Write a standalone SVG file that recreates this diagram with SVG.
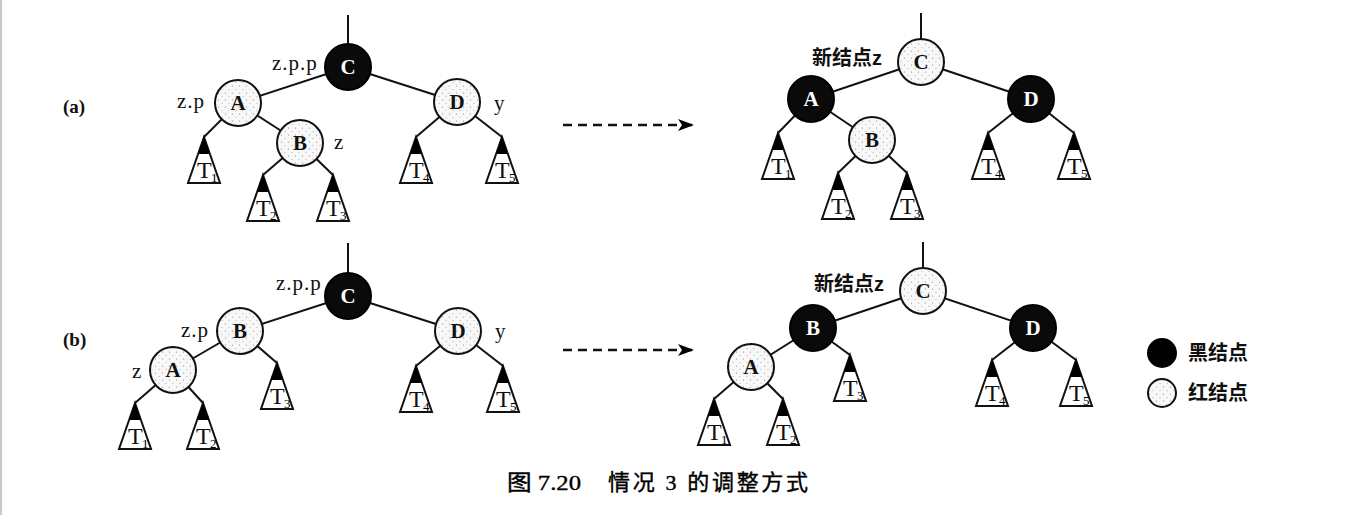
<svg xmlns="http://www.w3.org/2000/svg" width="1355" height="515" viewBox="0 0 1355 515">
<style>
.edge{stroke:#111;stroke-width:2;fill:none}
.blk{fill:#0a0a0a;stroke:#000;stroke-width:2}
.red{fill:url(#stip);stroke:#111;stroke-width:2}
.lw{font-family:"Liberation Serif",serif;font-weight:bold;font-size:21px;fill:#fff;text-anchor:middle}
.lb{font-family:"Liberation Serif",serif;font-weight:bold;font-size:21px;fill:#111;text-anchor:middle}
.tag{font-family:"Liberation Serif",serif;font-size:21px;fill:#111;letter-spacing:1px}
.cn{font-family:"Liberation Sans","Noto Sans CJK SC",sans-serif;font-weight:bold;font-size:20px;fill:#111}
.tt{font-family:"Liberation Serif",serif;font-size:24px;fill:#111}
.ts{font-family:"Liberation Serif",serif;font-size:13px;fill:#000}
.tri{fill:#fff;stroke:#111;stroke-width:2;stroke-linejoin:miter}
.dash{stroke:#111;stroke-width:2.5;stroke-dasharray:9 6;fill:none}
.cap{font-family:"Liberation Serif","Noto Sans CJK SC",serif;font-size:22px;fill:#000;stroke:#000;stroke-width:0.4}
.lab{font-family:"Liberation Serif",serif;font-weight:bold;font-size:19px;fill:#111}
</style>
<defs>
<pattern id="stip" width="7" height="7" patternUnits="userSpaceOnUse">
<rect width="7" height="7" fill="#f8f8f8"/>
<circle cx="1.5" cy="2" r="0.6" fill="#888"/>
<circle cx="5" cy="5.5" r="0.5" fill="#999"/>
</pattern>
<g id="sub">
<polygon class="tri" points="0,0 -16,46 16,46"/>
<polygon points="0,0 -6.2,17 6.2,17" fill="#000"/>
</g>
<marker id="ah" markerWidth="16" markerHeight="12" refX="14" refY="6" orient="auto" markerUnits="userSpaceOnUse">
<polygon points="0,0 16,6 0,12 4,6" fill="#000"/>
</marker>
</defs>
<rect width="1355" height="515" fill="#fff"/>
<rect x="0" y="0" width="2" height="515" fill="#c8c8c8"/>

<g id="connectors">
<line class="edge" x1="348" y1="15" x2="348" y2="67"/>
<line class="edge" x1="348" y1="67" x2="238" y2="103"/>
<line class="edge" x1="348" y1="67" x2="457" y2="102"/>
<line class="edge" x1="238" y1="103" x2="300" y2="143"/>
<line class="edge" x1="238" y1="103" x2="204" y2="137"/>
<line class="edge" x1="300" y1="143" x2="263" y2="175"/>
<line class="edge" x1="300" y1="143" x2="333" y2="175"/>
<line class="edge" x1="457" y1="102" x2="416" y2="137"/>
<line class="edge" x1="457" y1="102" x2="502" y2="137"/>
<line class="edge" x1="921" y1="13" x2="921" y2="62"/>
<line class="edge" x1="921" y1="62" x2="811" y2="99"/>
<line class="edge" x1="921" y1="62" x2="1031" y2="99"/>
<line class="edge" x1="811" y1="99" x2="872" y2="140"/>
<line class="edge" x1="811" y1="99" x2="778" y2="133"/>
<line class="edge" x1="872" y1="140" x2="838" y2="173"/>
<line class="edge" x1="872" y1="140" x2="907" y2="173"/>
<line class="edge" x1="1031" y1="99" x2="988" y2="133"/>
<line class="edge" x1="1031" y1="99" x2="1074" y2="133"/>
<line class="edge" x1="348" y1="243" x2="348" y2="296"/>
<line class="edge" x1="348" y1="296" x2="240" y2="331"/>
<line class="edge" x1="348" y1="296" x2="458" y2="331"/>
<line class="edge" x1="240" y1="331" x2="173" y2="370"/>
<line class="edge" x1="240" y1="331" x2="277" y2="363"/>
<line class="edge" x1="173" y1="370" x2="135" y2="403"/>
<line class="edge" x1="173" y1="370" x2="203" y2="403"/>
<line class="edge" x1="458" y1="331" x2="416" y2="366"/>
<line class="edge" x1="458" y1="331" x2="503" y2="366"/>
<line class="edge" x1="923" y1="242" x2="923" y2="291"/>
<line class="edge" x1="923" y1="291" x2="813" y2="328"/>
<line class="edge" x1="923" y1="291" x2="1033" y2="328"/>
<line class="edge" x1="813" y1="328" x2="751" y2="367"/>
<line class="edge" x1="813" y1="328" x2="850" y2="355"/>
<line class="edge" x1="751" y1="367" x2="714" y2="399"/>
<line class="edge" x1="751" y1="367" x2="783" y2="399"/>
<line class="edge" x1="1033" y1="328" x2="992" y2="360"/>
<line class="edge" x1="1033" y1="328" x2="1076" y2="360"/>
<line class="dash" x1="563" y1="125" x2="692" y2="125" marker-end="url(#ah)"/>
<line class="dash" x1="563" y1="350" x2="692" y2="350" marker-end="url(#ah)"/>
</g>

<text class="lab" x="63" y="113">(a)</text>
<text class="lab" x="63" y="346">(b)</text>

<g id="a-l-C"><circle class="blk" cx="348" cy="67" r="23"/><text class="lw" x="348" y="74">C</text></g>
<g id="a-l-A"><circle class="red" cx="238" cy="103" r="23"/><text class="lb" x="238" y="110">A</text></g>
<g id="a-l-B"><circle class="red" cx="300" cy="143" r="23"/><text class="lb" x="300" y="150">B</text></g>
<g id="a-l-D"><circle class="red" cx="457" cy="102" r="23"/><text class="lb" x="457" y="109">D</text></g>
<g id="a-l-T1"><use href="#sub" x="204" y="137"/><text class="tt" x="197" y="178">T</text><text class="ts" x="211" y="182">1</text></g>
<g id="a-l-T2"><use href="#sub" x="263" y="175"/><text class="tt" x="256" y="216">T</text><text class="ts" x="270" y="220">2</text></g>
<g id="a-l-T3"><use href="#sub" x="333" y="175"/><text class="tt" x="326" y="216">T</text><text class="ts" x="340" y="220">3</text></g>
<g id="a-l-T4"><use href="#sub" x="416" y="137"/><text class="tt" x="409" y="178">T</text><text class="ts" x="423" y="182">4</text></g>
<g id="a-l-T5"><use href="#sub" x="502" y="137"/><text class="tt" x="495" y="178">T</text><text class="ts" x="509" y="182">5</text></g>
<text class="tag" x="272" y="70">z.p.p</text>
<text class="tag" x="177" y="108">z.p</text>
<text class="tag" x="334" y="149">z</text>
<text class="tag" x="494" y="110">y</text>

<g id="a-r-C"><circle class="red" cx="921" cy="62" r="23"/><text class="lb" x="921" y="69">C</text></g>
<g id="a-r-A"><circle class="blk" cx="811" cy="99" r="23"/><text class="lw" x="811" y="106">A</text></g>
<g id="a-r-B"><circle class="red" cx="872" cy="140" r="23"/><text class="lb" x="872" y="147">B</text></g>
<g id="a-r-D"><circle class="blk" cx="1031" cy="99" r="23"/><text class="lw" x="1031" y="106">D</text></g>
<g id="a-r-T1"><use href="#sub" x="778" y="133"/><text class="tt" x="771" y="174">T</text><text class="ts" x="785" y="178">1</text></g>
<g id="a-r-T2"><use href="#sub" x="838" y="173"/><text class="tt" x="831" y="214">T</text><text class="ts" x="845" y="218">2</text></g>
<g id="a-r-T3"><use href="#sub" x="907" y="173"/><text class="tt" x="900" y="214">T</text><text class="ts" x="914" y="218">3</text></g>
<g id="a-r-T4"><use href="#sub" x="988" y="133"/><text class="tt" x="981" y="174">T</text><text class="ts" x="995" y="178">4</text></g>
<g id="a-r-T5"><use href="#sub" x="1074" y="133"/><text class="tt" x="1067" y="174">T</text><text class="ts" x="1081" y="178">5</text></g>
<text class="cn" x="812" y="65" font-size="21">新结点z</text>

<g id="b-l-C"><circle class="blk" cx="348" cy="296" r="23"/><text class="lw" x="348" y="303">C</text></g>
<g id="b-l-B"><circle class="red" cx="240" cy="331" r="23"/><text class="lb" x="240" y="338">B</text></g>
<g id="b-l-A"><circle class="red" cx="173" cy="370" r="23"/><text class="lb" x="173" y="377">A</text></g>
<g id="b-l-D"><circle class="red" cx="458" cy="331" r="23"/><text class="lb" x="458" y="338">D</text></g>
<g id="b-l-T1"><use href="#sub" x="135" y="403"/><text class="tt" x="128" y="444">T</text><text class="ts" x="142" y="448">1</text></g>
<g id="b-l-T2"><use href="#sub" x="203" y="403"/><text class="tt" x="196" y="444">T</text><text class="ts" x="210" y="448">2</text></g>
<g id="b-l-T3"><use href="#sub" x="277" y="363"/><text class="tt" x="270" y="404">T</text><text class="ts" x="284" y="408">3</text></g>
<g id="b-l-T4"><use href="#sub" x="416" y="366"/><text class="tt" x="409" y="407">T</text><text class="ts" x="423" y="411">4</text></g>
<g id="b-l-T5"><use href="#sub" x="503" y="366"/><text class="tt" x="496" y="407">T</text><text class="ts" x="510" y="411">5</text></g>
<text class="tag" x="276" y="290">z.p.p</text>
<text class="tag" x="181" y="337">z.p</text>
<text class="tag" x="132" y="378">z</text>
<text class="tag" x="495" y="338">y</text>

<g id="b-r-C"><circle class="red" cx="923" cy="291" r="23"/><text class="lb" x="923" y="298">C</text></g>
<g id="b-r-B"><circle class="blk" cx="813" cy="328" r="23"/><text class="lw" x="813" y="335">B</text></g>
<g id="b-r-A"><circle class="red" cx="751" cy="367" r="23"/><text class="lb" x="751" y="374">A</text></g>
<g id="b-r-D"><circle class="blk" cx="1033" cy="328" r="23"/><text class="lw" x="1033" y="335">D</text></g>
<g id="b-r-T1"><use href="#sub" x="714" y="399"/><text class="tt" x="707" y="440">T</text><text class="ts" x="721" y="444">1</text></g>
<g id="b-r-T2"><use href="#sub" x="783" y="399"/><text class="tt" x="776" y="440">T</text><text class="ts" x="790" y="444">2</text></g>
<g id="b-r-T3"><use href="#sub" x="850" y="355"/><text class="tt" x="843" y="396">T</text><text class="ts" x="857" y="400">3</text></g>
<g id="b-r-T4"><use href="#sub" x="992" y="360"/><text class="tt" x="985" y="401">T</text><text class="ts" x="999" y="405">4</text></g>
<g id="b-r-T5"><use href="#sub" x="1076" y="360"/><text class="tt" x="1069" y="401">T</text><text class="ts" x="1083" y="405">5</text></g>
<text class="cn" x="814" y="291" font-size="21">新结点z</text>

<g id="legend-black"><circle cx="1162" cy="353" r="15" fill="#000"/><text class="cn" x="1188" y="360">黑结点</text></g>
<g id="legend-red"><circle class="red" cx="1162" cy="393" r="14"/><text class="cn" x="1188" y="400">红结点</text></g>

<text class="cap" x="507" y="490" textLength="74" lengthAdjust="spacingAndGlyphs">图 7.20</text>
<text class="cap" x="608" y="490" textLength="200" lengthAdjust="spacing">情况 3 的调整方式</text>
</svg>
